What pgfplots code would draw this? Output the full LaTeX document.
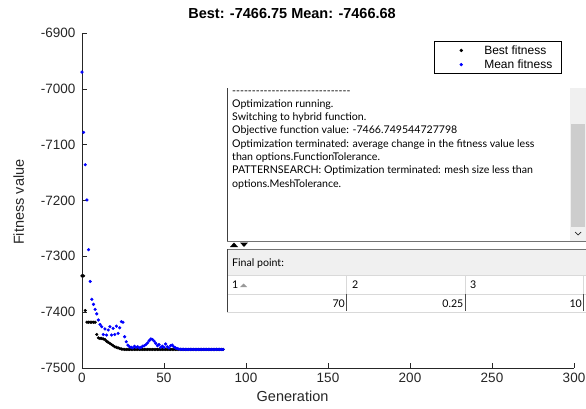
\documentclass[border=0pt]{standalone}
\usepackage{fontspec}
\setmainfont{Liberation Sans}
\newfontfamily\uifont{Lato}
\usepackage{pgfplots}
\usepackage{pgfplotstable}
\pgfplotsset{compat=1.18}
\definecolor{mgray}{HTML}{262626}
\definecolor{sbtrack}{HTML}{F0F0F0}
\definecolor{sbthumb}{HTML}{CDCDCD}
\definecolor{hdr}{HTML}{F0F0F0}
\definecolor{sep}{HTML}{D9D9D9}

% generation, best fitness, mean fitness
\pgfplotstableread{
gen best mean
0 -7335 -6970
1 -7335 -7078
2 -7397 -7136
3 -7418 -7199
4 -7418 -7288
5 -7418 -7345
6 -7418 -7377
7 -7418 -7386
8 -7418 -7395
9 -7440 -7403
10 -7446 -7414
11 -7447 -7422
12 -7447 -7426
13 -7448 -7440
14 -7449 -7430
15 -7452 -7441
16 -7454 -7432
17 -7456 -7426
18 -7458 -7441
19 -7460 -7429
20 -7462 -7440
21 -7463 -7425
22 -7464 -7438
23 -7465 -7428
24 -7466 -7417
25 -7466.5 -7418
26 -7466.75 -7444
27 -7466.75 -7453
28 -7466.75 -7459
29 -7466.75 -7462
30 -7466.75 -7463
31 -7466.75 -7464
32 -7466.75 -7461
33 -7466.75 -7463
34 -7466.75 -7462
35 -7466.75 -7464
36 -7466.75 -7463
37 -7466.75 -7461
38 -7466.75 -7460
39 -7466.75 -7458
40 -7466.75 -7455
41 -7466.75 -7451
42 -7466.75 -7448
43 -7466.75 -7449
44 -7466.75 -7452
45 -7466.75 -7456
46 -7466.75 -7460
47 -7466.75 -7458
48 -7466.75 -7463
49 -7466.75 -7461
50 -7466.75 -7463
51 -7466.75 -7457
52 -7466.75 -7462
53 -7466.75 -7464
54 -7466.75 -7460
55 -7466.75 -7459
56 -7466.75 -7462
57 -7466.75 -7464
58 -7466.75 -7465
59 -7466.75 -7466
60 -7466.75 -7466.5
61 -7466.75 -7466.6
62 -7466.75 -7466.6
63 -7466.75 -7466.7
64 -7466.75 -7466.7
65 -7466.75 -7466.7
66 -7466.75 -7466.7
67 -7466.75 -7466.7
68 -7466.75 -7466.7
69 -7466.75 -7466.7
70 -7466.75 -7466.7
71 -7466.75 -7466.7
72 -7466.75 -7466.7
73 -7466.75 -7466.7
74 -7466.75 -7466.7
75 -7466.75 -7466.7
76 -7466.75 -7466.7
77 -7466.75 -7466.7
78 -7466.75 -7466.7
79 -7466.75 -7466.7
80 -7466.75 -7466.7
81 -7466.75 -7466.7
82 -7466.75 -7466.7
83 -7466.75 -7466.7
84 -7466.75 -7466.7
85 -7466.75 -7466.7
86 -7466.75 -7466.68
}\gadata

\def\hy{-\kern0pt}
\begin{document}
\begin{tikzpicture}[x=1pt,y=1pt]
\path[use as bounding box] (0,0) rectangle (586,408);
\begin{axis}[
  at={(82pt,40pt)}, anchor=south west, scale only axis,
  width=492pt, height=335pt,
  xmin=0, xmax=300, ymin=-7500, ymax=-6900,
  axis lines=left, axis line style={-,mgray,line width=0.6pt},
  tick align=inside, major tick length=5pt, tick style={mgray,line width=0.6pt},
  xtick={0,50,...,300},
  xticklabels={0,50,100,150,200,250,300},
  ytick={-7500,-7400,...,-6900},
  yticklabels={-7500,-7400,-7300,-7200,-7100,-7000,-6900},
  ticklabel style={font=\fontsize{13.5}{13.5}\selectfont, text=mgray},
  xticklabel style={yshift=-2pt},
  yticklabel style={xshift=-3pt},
  title={\bfseries Best: -7466.75 Mean: -7466.68},
  title style={at={(axis description cs:0.427,1)}, anchor=base, yshift=9pt, font=\fontsize{14.5}{14.5}\selectfont},
  xlabel={Generation},
  xlabel style={at={(axis description cs:0.428,0)}, anchor=base, yshift=-33pt, font=\fontsize{14.5}{14.5}\selectfont, text=mgray},
  ylabel={Fitness value},
  ylabel style={at={(axis description cs:-0.118,0.495)}, anchor=base, font=\fontsize{14.5}{14.5}\selectfont, text=mgray},
  legend style={at={(axis description cs:0.7154,0.9761)}, anchor=north west, draw=black, line width=0.6pt,
    font=\fontsize{12}{14}\selectfont, inner xsep=0pt, inner ysep=2pt, row sep=0pt,
    cells={anchor=west}},
  legend image code/.code={\path[draw=none,fill=none] (0pt,-3pt) rectangle (48pt,3pt); \draw[#1] plot coordinates {(27pt,0pt)};},
]
\addplot[only marks, mark=*, mark size=1.4pt, black] table[x=gen, y=best] {\gadata};
\addlegendentry{Best fitness}
\addplot[only marks, mark=*, mark size=1.4pt, blue] table[x=gen, y=mean] {\gadata};
\addlegendentry{Mean fitness\rule{7pt}{0pt}}
\end{axis}

\begin{scope}[yshift=408pt, x=1pt, y=-1pt]
  % message window
  \fill[white] (227,88) rectangle (586,241);
  \fill[sbtrack] (570,88) rectangle (586,241);
  \fill[sbthumb] (571,124) rectangle (585,227);
  \draw[mgray, line width=0.7pt] (575,232) -- (578,235) -- (581,232);
  \draw[black!75, line width=1.3pt] (227.7,88) -- (227.7,241);
  \draw[black!55, line width=0.8pt] (227,241) -- (586,241);
  \begin{scope}[every node/.style={anchor=base west, inner sep=0pt, font=\uifont\fontsize{10.6}{12}\selectfont}]
    \node at (232,94) {\hy\hy\hy\hy\hy\hy\hy\hy\hy\hy\hy\hy\hy\hy\hy\hy\hy\hy\hy\hy\hy\hy\hy\hy\hy\hy\hy\hy\hy\hy};
    \node at (232,107.3) {Optimization running.};
    \node at (232,120.6) {Switching to hybrid function.};
    \node at (232,133.9) {Objective function value: -7466.749544727798};
    \node at (232,147.2) {Optimization terminated: average change in the fitness value less};
    \node at (232,160.5) {than options.FunctionTolerance.};
    \node at (232,173.8) {PATTERNSEARCH: Optimization terminated: mesh size less than};
    \node at (232,187.1) {options.MeshTolerance.};
  \end{scope}
  % splitter arrows
  \fill[white] (227,241.5) rectangle (586,249);
  \fill[black] (230,247) -- (234,242.5) -- (238,247) -- cycle;
  \fill[black] (240,242.5) -- (248,242.5) -- (244,247) -- cycle;
  % final point panel
  \fill[white] (227,249) rectangle (586,312);
  \fill[hdr] (227,249) rectangle (586,275);
  \draw[black!55, line width=0.8pt] (227,249.4) -- (586,249.4);
  \draw[sep, line width=0.6pt] (227,275) -- (586,275);
  \draw[sep, line width=0.6pt] (227,294) -- (586,294);
  \draw[sep, line width=0.6pt] (227,312) -- (586,312);
  \draw[sep, line width=0.6pt] (346.7,275) -- (346.7,294);
  \draw[sep, line width=0.6pt] (465,275) -- (465,294);
  \draw[sep, line width=0.6pt] (583,275) -- (583,294);
  \draw[black!70, line width=0.6pt] (346.7,294) -- (346.7,311);
  \draw[black!70, line width=0.6pt] (465,294) -- (465,311);
  \draw[black!70, line width=0.6pt] (583,294) -- (583,311);
  \draw[black!75, line width=1.3pt] (227.7,249) -- (227.7,312);
  \fill[black!40] (240,287) -- (243.5,283.5) -- (247,287) -- cycle;
  \begin{scope}[every node/.style={inner sep=0pt, font=\uifont\fontsize{10.6}{12}\selectfont}]
    \node[anchor=base west] at (232,266) {Final point:};
    \node[anchor=base west] at (232,288.5) {1};
    \node[anchor=base west] at (352,288.5) {2};
    \node[anchor=base west] at (470,288.5) {3};
    \node[anchor=base east] at (345,307.5) {70};
    \node[anchor=base east] at (463.5,307.5) {0.25};
    \node[anchor=base east] at (582,307.5) {10};
  \end{scope}
\end{scope}
\end{tikzpicture}
\end{document}
